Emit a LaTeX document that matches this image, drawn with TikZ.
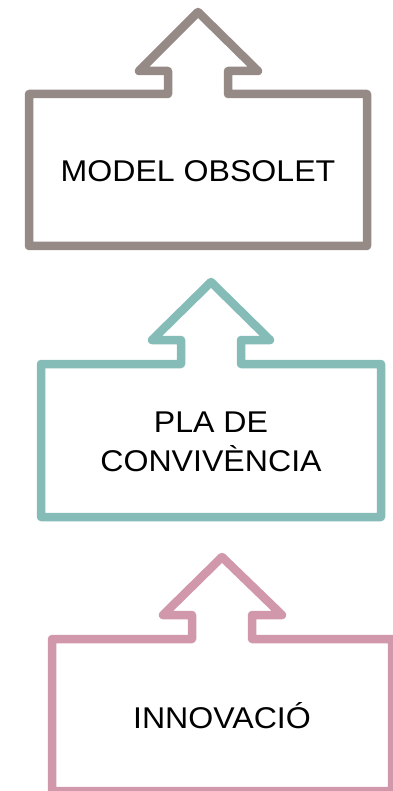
\documentclass[tikz,border=0pt]{standalone}
\usepackage{fontspec}
\newfontfamily\labfont[FakeStretch=1.07]{Liberation Sans}
\definecolor{cgray}{RGB}{150,138,135}
\definecolor{cteal}{RGB}{133,188,183}
\definecolor{cpink}{RGB}{209,151,170}
\begin{document}
\begin{tikzpicture}[x=1pt,y=-1pt,
  callout/.style={line width=8.5pt,line join=round,line cap=round,fill=white},
  lab/.style={align=center,font=\labfont\fontsize{30}{39}\selectfont,text=black,inner sep=0pt}]
\useasboundingbox (0,0) rectangle (392,791);
% shape 1
\draw[callout,draw=cgray] (29,94) -- (168,94) -- (168,71) -- (139,71) -- (198,12) -- (258,71) -- (228,71) -- (228,94) -- (367,94) -- (367,246) -- (29,246) -- cycle;
\node[lab] (t1) at (198,171) {MODEL OBSOLET};
% shape 2
\draw[callout,draw=cteal] (41,364) -- (181,364) -- (181,340) -- (152,340) -- (211,282) -- (270,340) -- (241,340) -- (241,364) -- (381,364) -- (381,517) -- (41,517) -- cycle;
\node[lab] (t2) at (211,442) {PLA DE\\CONVIVÈNCIA};
% shape 3
\draw[callout,draw=cpink] (52,639) -- (192,639) -- (192,615) -- (163,615) -- (222,557) -- (282,615) -- (252,615) -- (252,639) -- (392,639) -- (392,791) -- (52,791) -- cycle;
\node[lab] (t3) at (222,716) {INNOVACIÓ};
\end{tikzpicture}
\end{document}
